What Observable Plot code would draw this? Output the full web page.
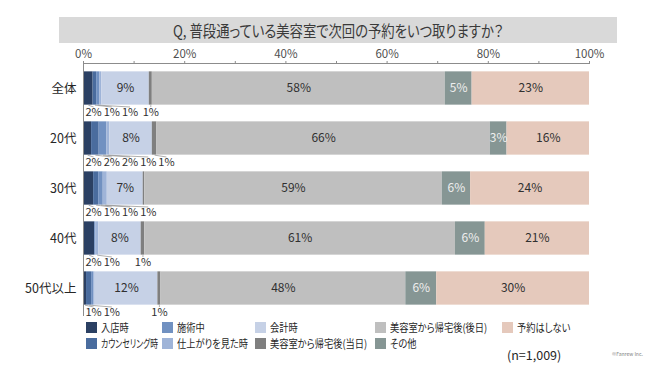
<!DOCTYPE html>
<html><head><meta charset="utf-8">
<script src="https://cdn.jsdelivr.net/npm/d3@7"></script>
<script src="https://cdn.jsdelivr.net/npm/@observablehq/plot@0.6"></script>
<style>
body{margin:0;background:#fff;font-family:"Noto Sans CJK JP","Noto Sans",sans-serif;font-feature-settings:"palt";}
#wrap{width:649px;height:365px;position:relative;overflow:hidden;background:#fff;}
#title{position:absolute;left:59px;top:17px;width:558px;height:26px;background:#d9d9d9;color:#3a3a3a;font-size:15.5px;line-height:26px;text-align:center;}
#title span{display:inline-block;transform:scaleX(0.86);transform-origin:center;white-space:nowrap;}
#chart{position:absolute;left:0;top:44px;}
#legend{position:absolute;left:86px;top:319px;display:grid;grid-template-rows:16px 16px;grid-auto-flow:column;grid-template-columns:76px 93px 120px 127px 110px;font-size:11px;color:#262626;}
.item{display:flex;align-items:center;white-space:nowrap;}
.item .tx{display:inline-block;transform-origin:left center;}
.sw{width:11px;height:11px;margin-right:4px;flex:none;}
#n{position:absolute;left:507px;top:345px;font-size:12.5px;color:#262626;}
#copy{position:absolute;left:612px;top:350px;font-size:5px;color:#808080;}
</style>
</head><body>
<div id="wrap">
  <div id="title"><span id="titletext"></span></div>
  <div id="chart"></div>
  <div id="legend"></div>
  <div id="n"></div>
  <div id="copy"></div>
</div>
<script>
const titleText = "Q, 普段通っている美容室で次回の予約をいつ取りますか？";
const groups = ["全体", "20代", "30代", "40代", "50代以上"];
const answers = ["入店時", "カウンセリング時", "施術中", "仕上がりを見た時", "会計時",
  "美容室から帰宅後(当日)", "美容室から帰宅後(後日)", "その他", "予約はしない"];
const colors = ["#2b4063", "#4a6c9e", "#7191c1", "#9fb4d8", "#c6d1e6",
  "#7f7f7f", "#bfbfbf", "#869694", "#e5c9bc"];
const labelColors = ["#f0f0f0", "#f0f0f0", "#303030", "#303030", "#303030",
  "#303030", "#303030", "#eeeeee", "#303030"];
const zentai = [1.9, 0.7, 0.6, 0.4, 9.4, 0.6, 57.9, 5.3, 23.2];
const age20 = [1.6, 1.5, 1.5, 0.6, 8.4, 0.9, 65.9, 3.3, 16.3];
const age30 = [2.0, 1.0, 0.9, 0.8, 7.1, 0.3, 58.8, 5.6, 23.5];
const age40 = [2.2, 0.0, 0.2, 0.6, 8.4, 0.7, 61.4, 5.9, 20.6];
const age50 = [0.6, 1.0, 0.4, 0.3, 12.4, 0.6, 48.4, 6.1, 30.2];
const xTicks = [0, 20, 40, 60, 80, 100];
const xMinorTicks = [0, 10, 20, 30, 40, 50, 60, 70, 80, 90, 100];
const sampleNote = "(n=1,009)";
const credit = "©Fanrew Inc.";

document.getElementById("titletext").textContent = titleText;
document.getElementById("n").textContent = sampleNote;
document.getElementById("copy").textContent = credit;

const rows = [zentai, age20, age30, age40, age50];
const segs = [];
rows.forEach((vals, g) => {
  let c = 0;
  vals.forEach((v, k) => { segs.push({g, k, v, x1: c, x2: c + v}); c += v; });
});
const pct = d => Math.round(d.v) + "%";
const inside = segs.filter(d => Math.round(d.v) >= 3);
// small segments: labels placed below, left to right, dodged
const GAP = 3.6, FIRST = 2.0;
const small = [];
groups.forEach((_, g) => {
  let prev = -Infinity;
  segs.filter(d => d.g === g && Math.round(d.v) >= 1 && Math.round(d.v) < 3).forEach(d => {
    const c = (d.x1 + d.x2) / 2;
    const lx = Math.max(c, prev + GAP, FIRST);
    prev = lx;
    small.push({...d, c, lx});
  });
});
const HALF = 0.333;
const font = '"Noto Sans CJK JP","Noto Sans",sans-serif';

const chart = Plot.plot({
  width: 649, height: 276,
  marginLeft: 83, marginRight: 60, marginTop: 19, marginBottom: 4,
  style: {fontFamily: font, fontSize: "11px", background: "transparent", color: "#303030"},
  x: {domain: [0, 100], axis: null},
  y: {domain: [-0.5, 4.56], reverse: true, axis: null},
  marks: [
    Plot.rectX(segs, {x1: "x1", x2: "x2", y1: d => d.g - HALF, y2: d => d.g + HALF, fill: d => colors[d.k]}),
    Plot.ruleX([0], {stroke: "#8c8c8c", strokeWidth: 1}),
    Plot.ruleY([-0.5], {x1: 0, x2: 100, stroke: "#8c8c8c", strokeWidth: 1}),
    Plot.axisX({anchor: "top", label: null, ticks: xMinorTicks, tickSize: 3, tickFormat: () => "", stroke: "#8c8c8c"}),
    Plot.axisX({anchor: "top", label: null, ticks: xTicks, tickSize: 0, tickPadding: 6, tickFormat: d => d + "%", fill: "#505050", fontSize: 11.5}),
    Plot.axisY({label: null, ticks: [0, 1, 2, 3, 4], tickFormat: i => groups[i], tickSize: 0, tickPadding: 7, fontSize: 12.5, fill: "#262626"}),
    Plot.text(inside, {x: d => (d.x1 + d.x2) / 2, y: "g", text: pct, fill: d => labelColors[d.k], fontSize: 12}),
    Plot.link(small, {x1: "c", y1: d => d.g + HALF, x2: "lx", y2: d => d.g + 0.37, stroke: "#8c8c8c", strokeWidth: 0.7}),
    Plot.text(small, {x: "lx", y: d => d.g + 0.48, text: pct, fill: "#303030", fontSize: 11})
  ]
});
document.getElementById("chart").appendChild(chart);

const legend = document.getElementById("legend");
const colWidths = [76, 93, 120, 127, 110];
answers.forEach((a, k) => {
  const it = document.createElement("div");
  it.className = "item";
  const sw = document.createElement("span");
  sw.className = "sw";
  sw.style.background = colors[k];
  const t = document.createElement("span");
  t.className = "tx";
  t.textContent = a;
  it.appendChild(sw); it.appendChild(t);
  legend.appendChild(it);
  const avail = colWidths[Math.floor(k / 2)] - 19;
  const w = t.getBoundingClientRect().width;
  const s = Math.min(0.84, avail / w);
  t.style.transform = `scaleX(${s})`;
});
</script>
</body></html>
